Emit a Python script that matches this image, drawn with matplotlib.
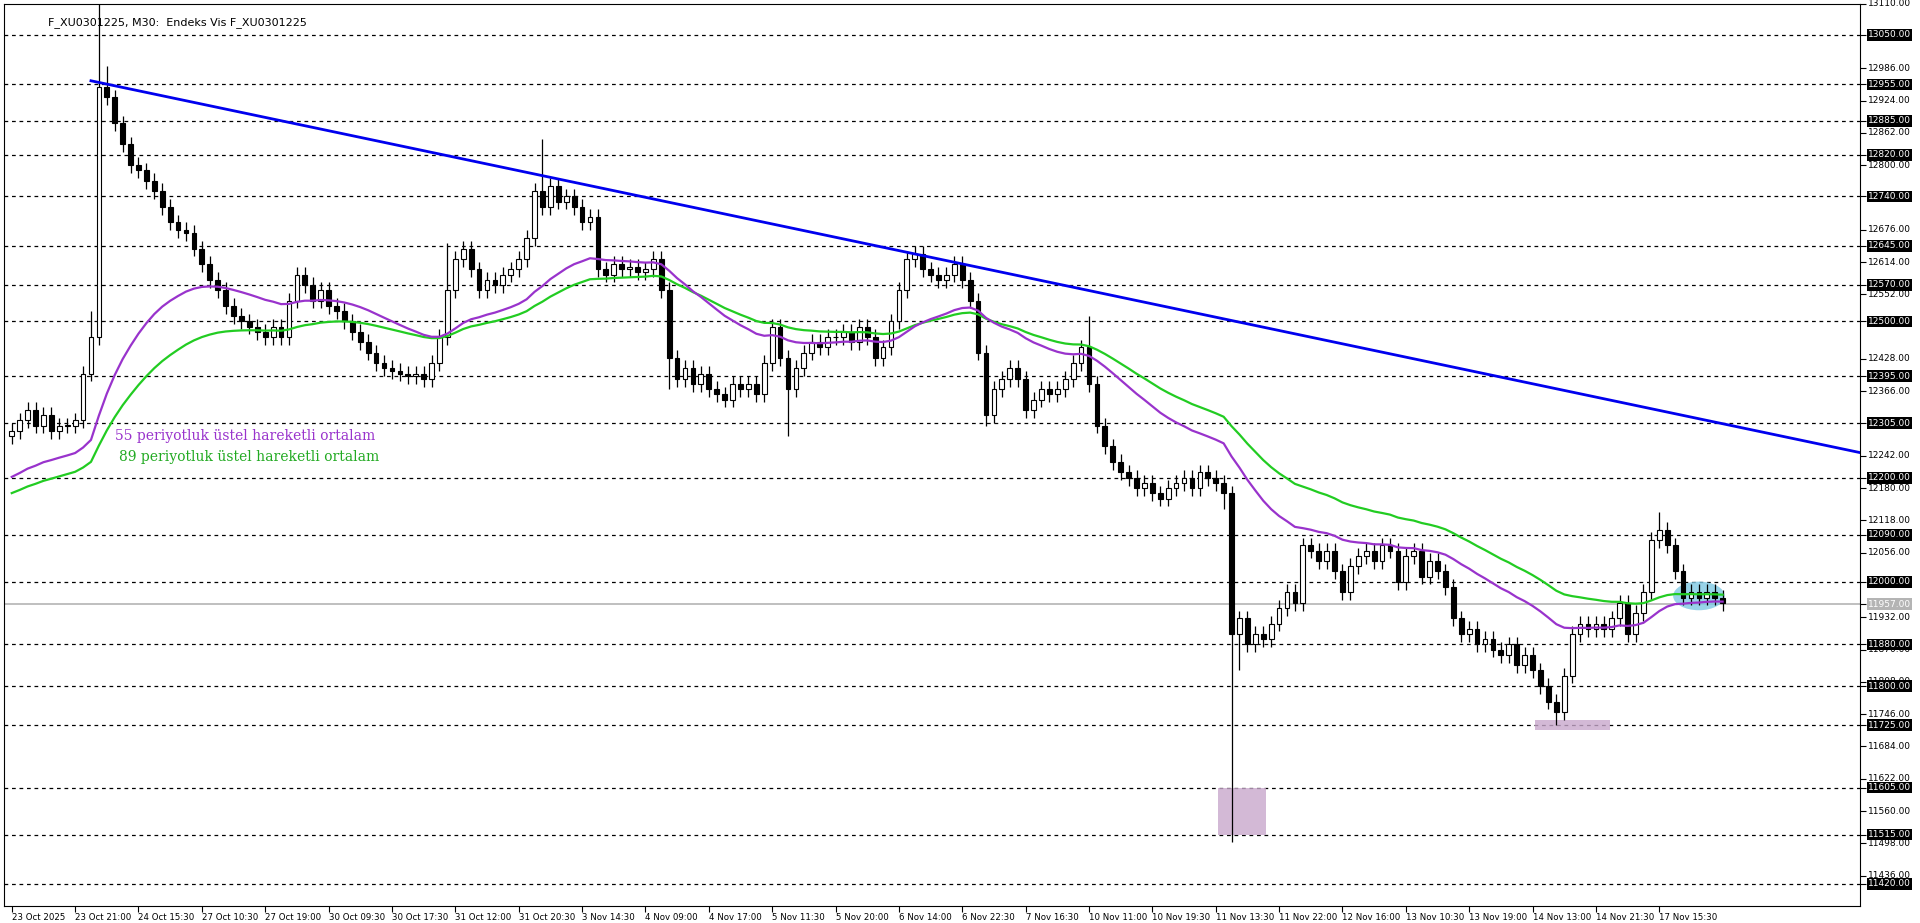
import numpy as np
import matplotlib
matplotlib.use('agg')
import matplotlib.pyplot as plt
from matplotlib.patches import Rectangle, Ellipse

closes = [12290, 12310, 12330, 12300, 12320, 12290, 12300, 12300, 12310,
          12400, 12470, 12950, 12930, 12880, 12840, 12800, 12790,
          12770, 12750, 12720, 12690, 12675, 12670, 12640, 12610,
          12580, 12560, 12530, 12510, 12500, 12490, 12480, 12470,
          12490, 12470, 12540, 12590, 12570, 12540, 12560, 12530,
          12520, 12500, 12480, 12460, 12440, 12420, 12410, 12405,
          12400, 12395, 12400, 12390, 12420, 12470, 12560, 12620,
          12640, 12600, 12560, 12580, 12570, 12590, 12600, 12620,
          12660, 12750, 12720, 12760, 12730, 12740, 12720, 12690,
          12700, 12600, 12590, 12610, 12600, 12605, 12595, 12600,
          12620, 12560, 12430, 12390, 12410, 12380, 12400, 12370,
          12360, 12350, 12380, 12370, 12380, 12360, 12420, 12490,
          12430, 12370, 12410, 12440, 12460, 12450, 12470, 12470,
          12480, 12460, 12490, 12470, 12430, 12450, 12500, 12560,
          12620, 12630, 12600, 12590, 12580, 12590, 12610, 12580,
          12540, 12440, 12320, 12370, 12390, 12410, 12390, 12330,
          12350, 12370, 12360, 12370, 12390, 12420, 12450, 12380,
          12300, 12260, 12230, 12210, 12200, 12180, 12190, 12170,
          12160, 12180, 12190, 12200, 12180, 12210, 12200, 12190,
          12170, 11900, 11930, 11880, 11900, 11890, 11920, 11950,
          11980, 11960, 12070, 12060, 12040, 12060, 12020, 11980,
          12030, 12050, 12060, 12040, 12070, 12060, 12000, 12050,
          12060, 12010, 12040, 12020, 11990, 11930, 11900, 11910,
          11880, 11890, 11870, 11860, 11880, 11840, 11860, 11830,
          11800, 11770, 11750, 11820, 11900, 11920, 11910, 11920,
          11910, 11930, 11960, 11900, 11940, 11980, 12080, 12100,
          12070, 12020, 11970, 11980, 11970, 11980, 11970, 11960]
first_open = 12280
spike_highs = {10: 12520, 11: 13110, 12: 12990, 67: 12850, 136: 12510, 208: 12135, 55: 12650}
spike_lows = {154: 11500, 153: 12140, 195: 11725, 98: 12280, 123: 12300, 83: 12370, 155: 11830}
wick = 15

ema_fast_seed, ema_slow_seed = 12195, 12165
ema_fast_n, ema_slow_n = 28, 45

trend_p0 = (10, 12962)
trend_p1 = (233.4, 12248)

levels = [13050, 12955, 12885, 12820, 12740, 12645, 12570, 12500, 12395, 12305,
          12200, 12090, 12000, 11880, 11800, 11725, 11605, 11515, 11420]
plain_ticks = [13110, 12986, 12924, 12862, 12800, 12676, 12614, 12552, 12428, 12366,
               12242, 12180, 12118, 12056, 11932, 11870, 11808, 11746, 11684, 11622,
               11560, 11498, 11436]
last_price = 11957

xlabels = ['23 Oct 2025', '23 Oct 21:00', '24 Oct 15:30', '27 Oct 10:30', '27 Oct 19:00',
           '30 Oct 09:30', '30 Oct 17:30', '31 Oct 12:00', '31 Oct 20:30', '3 Nov 14:30',
           '4 Nov 09:00', '4 Nov 17:00', '5 Nov 11:30', '5 Nov 20:00', '6 Nov 14:00',
           '6 Nov 22:30', '7 Nov 16:30', '10 Nov 11:00', '10 Nov 19:30', '11 Nov 13:30',
           '11 Nov 22:00', '12 Nov 16:00', '13 Nov 10:30', '13 Nov 19:00', '14 Nov 13:00',
           '14 Nov 21:30', '17 Nov 15:30']
label_step = 8

c = np.array(closes, float)
o = np.concatenate([[first_open], c[:-1]])
h = np.maximum(o, c) + wick
l = np.minimum(o, c) - wick
for k, v in spike_highs.items():
    h[k] = v
for k, v in spike_lows.items():
    l[k] = v
n = len(c)
idx = np.arange(n)

def ema(vals, period, seed):
    a = 2.0 / (period + 1)
    out = []
    e = seed
    for v in vals:
        e = a * v + (1 - a) * e
        out.append(e)
    return np.array(out)

fig = plt.figure(figsize=(19.2, 9.23), dpi=100)
ax = fig.add_axes([0.002, 0.018, 0.967, 0.978])
ylo, yhi = 11377, 13110
ax.set_xlim(-1, 233.4)
ax.set_ylim(ylo, yhi)

for lv in levels:
    ax.axhline(lv, color='black', lw=0.9, ls=(0, (3, 3)), zorder=1)
ax.axhline(last_price, color='#b4b4b4', lw=1.2, zorder=1)

for i in idx:
    ax.vlines(i, l[i], h[i], color='black', lw=0.9, zorder=3)
    bot = min(o[i], c[i])
    ht = max(abs(c[i] - o[i]), 1)
    fc = 'white' if c[i] >= o[i] else 'black'
    ax.add_patch(Rectangle((i - 0.3, bot), 0.6, ht, fc=fc, ec='black', lw=0.8, zorder=4))

ax.plot(idx, ema(c, ema_slow_n, ema_slow_seed), color='#22cc22', lw=1.6, zorder=5)
ax.plot(idx, ema(c, ema_fast_n, ema_fast_seed), color='#9933cc', lw=1.6, zorder=5)
ax.plot([trend_p0[0], trend_p1[0]], [trend_p0[1], trend_p1[1]], color='#0000ee', lw=2, zorder=6)

ax.add_patch(Rectangle((152.3, 11515), 6, 90, fc='#c8a8cc', alpha=0.8, ec='none', zorder=2))
ax.add_patch(Rectangle((192.3, 11715), 9.5, 20, fc='#c8a8cc', alpha=0.8, ec='none', zorder=2))
ax.add_patch(Ellipse((213, 11973), 6.5, 55, fc='#7ec8e3', alpha=0.8, ec='none', zorder=2))

ax.text(13, 12280, '55 periyotluk üstel hareketli ortalam', color='#9933cc',
        family='DejaVu Serif', fontsize=10, va='center', zorder=7)
ax.text(13.5, 12240, '89 periyotluk üstel hareketli ortalam', color='#22aa22',
        family='DejaVu Serif', fontsize=10, va='center', zorder=7)
ax.text(0.024, 0.985, 'F_XU0301225, M30:  Endeks Vis F_XU0301225', transform=ax.transAxes,
        fontsize=8, va='top', zorder=7)

ax.yaxis.tick_right()
ax.set_yticks(levels + plain_ticks + [last_price])
ax.set_yticklabels([])
ax.tick_params(axis='y', length=4, width=0.8)
for lv in plain_ticks:
    ax.text(1.004, (lv - ylo) / (yhi - ylo), f'{lv:.2f}', transform=ax.transAxes,
            fontsize=6.5, va='center', ha='left')
for lv in levels:
    ax.text(1.004, (lv - ylo) / (yhi - ylo), f'{lv:.2f}', transform=ax.transAxes,
            fontsize=6.5, va='center', ha='left', color='white', zorder=8,
            bbox=dict(fc='black', ec='none', pad=1.0))
ax.text(1.004, (last_price - ylo) / (yhi - ylo), f'{last_price:.2f}', transform=ax.transAxes,
        fontsize=6.5, va='center', ha='left', color='white',
        bbox=dict(fc='#b4b4b4', ec='none', pad=1.0))

xt = [k * label_step for k in range(len(xlabels))]
ax.set_xticks(xt)
ax.set_xticklabels(xlabels, fontsize=6.2, ha='left', family='Liberation Sans Narrow')
ax.tick_params(axis='x', length=4, width=0.8, pad=1)

fig.savefig('out.png', dpi=100)
